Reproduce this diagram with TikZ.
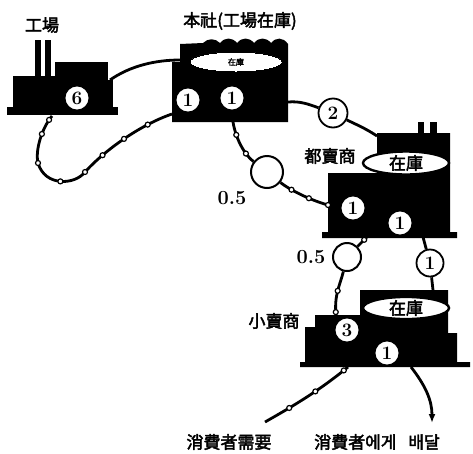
\documentclass[tikz,border=0pt]{standalone}
\usepackage{fontspec}
\newfontfamily\cjk[FakeBold=2.5]{Noto Sans CJK KR}
\usetikzlibrary{arrows.meta,shapes.geometric}

\begin{document}
\begin{tikzpicture}[x=1pt,y=-1pt,
  flow/.style={line width=2.8pt},
  bead/.style={circle,draw,fill=white,line width=1.2pt,inner sep=0pt,minimum size=5pt},
  num/.style={circle,draw,fill=white,line width=1.8pt,minimum size=25pt,inner sep=0pt,font=\fontsize{19}{19}\selectfont\bfseries},
  valve/.style={circle,draw,fill=white,line width=2pt,minimum size=30pt,inner sep=0pt},
  stock/.style={ellipse,draw,fill=white,line width=2.4pt,inner sep=0pt,minimum width=86pt,minimum height=23pt,font=\cjk\fontsize{17}{17}\selectfont},
  lbl/.style={font=\cjk\fontsize{17}{17}\selectfont,inner sep=0pt},
  qty/.style={font=\fontsize{20}{20}\selectfont\bfseries,inner sep=0pt}]
  \useasboundingbox (0,0) rectangle (473,453);

  % factory
  \fill (7,107) rectangle (118,115);
  \fill (13,76) rectangle (60,108);
  \fill (55,62) rectangle (108,108);
  \fill (108,80) rectangle (113,108);
  \fill (35,40) rectangle (41,78);
  \fill (45,40) rectangle (51,78);
  \node[num] (f6) at (77,98) {6};
  \node[lbl] (flabel) at (42,25) {工場};
  \coordinate (fOut) at (110,80);
  \coordinate (fIn) at (52,116);

  % head office with warehouse
  \fill (172,122) -- (288,122) -- (288,44)
    .. controls (283,37) and (276,37) .. (271,43)
    .. controls (266,37) and (259,37) .. (254,43)
    .. controls (249,37) and (242,37) .. (237,43)
    .. controls (232,37) and (225,37) .. (220,43)
    .. controls (215,38) and (208,38) .. (203,43)
    -- (180,44) -- (180,62) -- (172,62) -- cycle;
  \node[stock,line width=0pt,minimum width=92pt,minimum height=20pt,font=\cjk\fontsize{8}{8}\selectfont] (hqstock) at (236,62) {在庫};
  \node[num] (hq1a) at (188,100) {1};
  \node[num] (hq1b) at (232,98) {1};
  \node[lbl] (hqlabel) at (240,21) {本社(工場在庫)};
  \coordinate (hqW) at (180,60);
  \coordinate (hqSW) at (172,114);
  \coordinate (hqE) at (288,102);
  \coordinate (hqS) at (233,122);

  % wholesaler
  \fill (418,122) rectangle (424,134);
  \fill (430,122) rectangle (437,134);
  \fill (377,133) -- (450,133) -- (450,232) -- (457,232) -- (457,238) -- (322,238)
    -- (322,232) -- (328,232) -- (328,173) -- (377,173) -- cycle;
  \node[stock] (wsstock) at (406,163) {在庫};
  \node[num] (ws1a) at (353,208) {1};
  \node[num] (ws1b) at (400,223) {1};
  \node[lbl] (wslabel) at (330,156) {都賣商};
  \coordinate (wsNW) at (377,136);
  \coordinate (wsW) at (328,205);
  \coordinate (wsS1) at (367,237);
  \coordinate (wsS2) at (423,237);

  % retailer
  \fill (360,290) -- (448,290) -- (448,333) -- (457,333) -- (457,362) -- (470,362)
    -- (470,367) -- (300,367) -- (300,362) -- (305,362) -- (305,327) -- (315,327)
    -- (315,315) -- (360,315) -- cycle;
  \node[stock,minimum height=20pt] (rtstock) at (406,308) {在庫};
  \node[num] (rt3) at (347,330) {3};
  \node[num] (rt1) at (387,353) {1};
  \node[lbl] (rtlabel) at (274,321) {小賣商};
  \coordinate (rtN1) at (336,315);
  \coordinate (rtN2) at (433,290);
  \coordinate (rtS1) at (348,367);
  \coordinate (rtS2) at (411,367);

  % consumers
  \coordinate (dem) at (265,422);
  \coordinate (dlv) at (432,423);
  \node[lbl] (demlabel) at (229,442) {消費者需要};
  \node[lbl,anchor=west] (dlvlabel) at (314,442) {消費者에게\hspace{0.7em}배달};

  % goods flow
  \node[num,minimum size=29pt] (c2) at (333,113) {2};
  \node[num,minimum size=27pt] (c1) at (430,263) {1};
  \draw[flow] (fOut) .. controls (130,66) and (155,60) .. (hqW);
  \draw[flow] (hqE) .. controls (300,101) and (308,104) .. (c2);
  \draw[flow] (c2) .. controls (355,124) and (365,128) .. (wsNW);
  \draw[flow] (wsS2) -- (c1);
  \draw[flow] (c1) -- (rtN2);
  \draw[flow,-{Latex[length=9pt,width=7pt]}] (rtS2) .. controls (425,385) and (432,400) .. (dlv);

  % order flow
  \node[valve,minimum size=32pt] (v1) at (267,172) {};
  \node[valve,minimum size=28pt] (v2) at (347,257) {};
  \node[qty] (q1) at (232,198) {0.5};
  \node[qty] (q2) at (311,257) {0.5};
  \draw[flow] (hqSW) .. controls (140,125) and (105,150) .. (85,172)
      node[bead,pos=.25]{} node[bead,pos=.5]{} node[bead,pos=.75]{} node[bead,pos=1]{}
    .. controls (75,185) and (45,187) .. (38,163)
      node[bead,pos=.5]{} node[bead,pos=1]{}
    .. controls (35,150) and (42,128) .. (fIn)
      node[bead,pos=.6]{} node[bead,pos=.9]{};
  \draw[flow] (hqS) .. controls (236,140) and (245,155) .. (v1)
    node[bead,pos=.25]{} node[bead,pos=.7]{};
  \draw[flow] (v1) .. controls (290,190) and (310,200) .. (wsW)
    node[bead,pos=.3]{} node[bead,pos=.65]{} node[bead,pos=1]{};
  \draw[flow] (wsS1) -- (v2) node[bead,pos=.3]{};
  \draw[flow] (v2) .. controls (340,285) and (334,295) .. (rtN1)
    node[bead,pos=.5]{} node[bead,pos=.95]{};
  \draw[flow] (rtS1) .. controls (320,390) and (295,405) .. (dem)
    node[bead,pos=.05]{} node[bead,pos=.4]{} node[bead,pos=.72]{};
\end{tikzpicture}
\end{document}
